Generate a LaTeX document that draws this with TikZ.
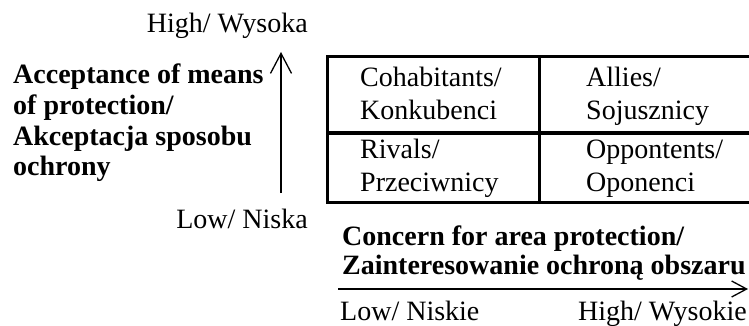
\documentclass[tikz,border=0pt]{standalone}
\usepackage{fontspec}
\setmainfont{Liberation Serif}
\usetikzlibrary{arrows.meta}
\tikzset{
  txt/.style={inner sep=0pt, font=\fontsize{28}{30}\selectfont},
  btxt/.style={inner sep=0pt, font=\fontsize{28}{30}\selectfont\bfseries},
  grid/.style={line width=3pt},
  axis/.style={line width=1.3pt},
}
\begin{document}
\begin{tikzpicture}[x=1pt,y=-1pt]
\useasboundingbox (0,0) rectangle (749,326);
% vertical axis
\node[txt, anchor=base east] (vhigh) at (308,33) {High/ Wysoka};
\node[txt, anchor=base east] (vlow) at (308,228) {Low/ Niska};
\coordinate (vs) at (281,193);
\coordinate (ve) at (281,52);
\draw[axis, -{Straight Barb[length=20pt,width=21pt,line width=1.3pt]}] (vs) -- (ve);
\node[btxt, anchor=base west] (y1) at (13,84) {Acceptance of means};
\node[btxt, anchor=base west] (y2) at (13,115) {of protection/};
\node[btxt, anchor=base west] (y3) at (13,145) {Akceptacja sposobu};
\node[btxt, anchor=base west] (y4) at (13,175) {ochrony};
% table
\coordinate (tl) at (327,57);
\coordinate (bl) at (327,202);
\draw[grid] (749,57) -- (tl) -- (bl) -- (749,202);
\draw[grid] (327,133) -- (749,133);
\draw[grid] (539,57) -- (539,202);
\node[txt, anchor=base west] (c1) at (360,87) {Cohabitants/};
\node[txt, anchor=base west] (c2) at (360,120) {Konkubenci};
\node[txt, anchor=base west] (a1) at (586,87) {Allies/};
\node[txt, anchor=base west] (a2) at (586,120) {Sojusznicy};
\node[txt, anchor=base west] (r1) at (360,158) {Rivals/};
\node[txt, anchor=base west] (r2) at (360,191) {Przeciwnicy};
\node[txt, anchor=base west] (o1) at (586,158) {Oppontents/};
\node[txt, anchor=base west] (o2) at (586,191) {Oponenci};
% horizontal axis
\node[btxt, anchor=base west] (x1) at (342,245) {Concern for area protection/};
\node[btxt, anchor=base west] (x2) at (342,274) {Zainteresowanie ochroną obszaru};
\coordinate (hs) at (338,289);
\coordinate (he) at (748,289);
\draw[axis, -{Straight Barb[length=15pt,width=16pt,line width=1.3pt]}] (hs) -- (he);
\node[txt, anchor=base west] (hlow) at (340,320) {Low/ Niskie};
\node[txt, anchor=base east] (hhigh) at (747,320) {High/ Wysokie};
\end{tikzpicture}
\end{document}
